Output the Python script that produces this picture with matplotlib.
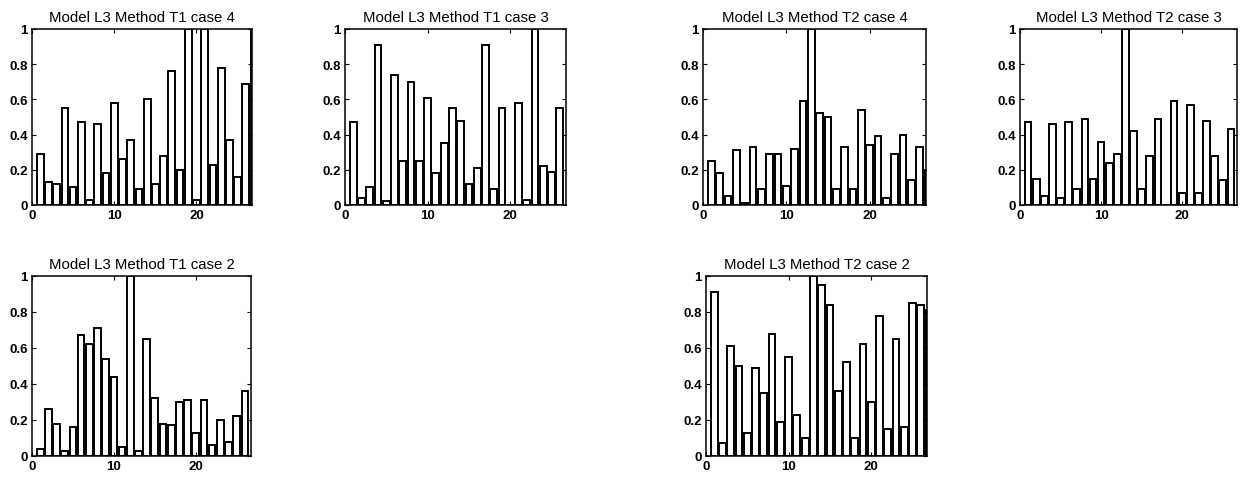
import numpy as np
import matplotlib
matplotlib.use("Agg")
import matplotlib.pyplot as plt

plt.rcParams['font.family'] = ['Liberation Sans', 'DejaVu Sans']

bins = list(range(1, 28))

t1_case4 = [0.29, 0.13, 0.12, 0.55, 0.10, 0.47, 0.03, 0.46, 0.18, 0.58,
            0.26, 0.37, 0.09, 0.60, 0.12, 0.28, 0.76, 0.20, 1.00, 0.03,
            1.00, 0.23, 0.78, 0.37, 0.16, 0.69, 1.00]
t1_case3 = [0.47, 0.04, 0.10, 0.91, 0.02, 0.74, 0.25, 0.70, 0.25, 0.61,
            0.18, 0.35, 0.55, 0.48, 0.12, 0.21, 0.91, 0.09, 0.55, 0.00,
            0.58, 0.03, 1.00, 0.22, 0.19, 0.55, 0.00]
t2_case4 = [0.25, 0.18, 0.05, 0.31, 0.01, 0.33, 0.09, 0.29, 0.29, 0.11,
            0.32, 0.59, 1.00, 0.52, 0.50, 0.09, 0.33, 0.09, 0.54, 0.34,
            0.39, 0.04, 0.29, 0.40, 0.14, 0.33, 0.20]
t2_case3 = [0.47, 0.15, 0.05, 0.46, 0.04, 0.47, 0.09, 0.49, 0.15, 0.36,
            0.24, 0.29, 1.00, 0.42, 0.09, 0.28, 0.49, 0.00, 0.59, 0.07,
            0.57, 0.07, 0.48, 0.28, 0.14, 0.43, 0.00]
t1_case2 = [0.04, 0.26, 0.18, 0.03, 0.16, 0.67, 0.62, 0.71, 0.54, 0.44,
            0.05, 1.00, 0.03, 0.65, 0.32, 0.18, 0.17, 0.30, 0.31, 0.13,
            0.31, 0.06, 0.20, 0.08, 0.22, 0.36, 0.00]
t2_case2 = [0.91, 0.07, 0.61, 0.50, 0.13, 0.49, 0.35, 0.68, 0.19, 0.55,
            0.23, 0.10, 1.00, 0.95, 0.84, 0.36, 0.52, 0.10, 0.62, 0.30,
            0.78, 0.15, 0.65, 0.16, 0.85, 0.84, 0.81]

titles = ["Model L3 Method T1 case 4", "Model L3 Method T1 case 3",
          "Model L3 Method T2 case 4", "Model L3 Method T2 case 3",
          "Model L3 Method T1 case 2", "Model L3 Method T2 case 2"]
series = [t1_case4, t1_case3, t2_case4, t2_case3, t1_case2, t2_case2]

W, H = 1241, 481
fig = plt.figure(figsize=(W / 100, H / 100), dpi=100)

# panel boxes in pixels: left, top, right, bottom
boxes = [(32, 30, 252, 206), (345, 30, 566, 206), (703, 30, 926, 206),
         (1020, 30, 1237, 206), (32, 277, 251, 457), (706, 277, 927, 457)]

for (l, t, r, b), title, vals in zip(boxes, titles, series):
    ax = fig.add_axes([l / W, 1 - b / H, (r - l) / W, (b - t) / H])
    ax.bar(bins, vals, width=0.82, facecolor='white', edgecolor='black',
           linewidth=1.4)
    ax.set_xlim(0, 26.75)
    ax.set_ylim(0, 1)
    ax.set_xticks([0, 10, 20])
    ax.set_yticks([0, 0.2, 0.4, 0.6, 0.8, 1.0])
    ax.set_yticklabels(["0", "0.2", "0.4", "0.6", "0.8", "1"])
    ax.tick_params(direction='in', top=True, right=True, length=3,
                   width=0.8, labelsize=9.5, pad=3)
    for lab in ax.get_xticklabels() + ax.get_yticklabels():
        lab.set_fontweight('bold')
    for sp in ax.spines.values():
        sp.set_linewidth(1.1)
    ax.set_title(title, fontsize=10.8, fontweight='normal', pad=6)

fig.savefig("out.png", dpi=100)
